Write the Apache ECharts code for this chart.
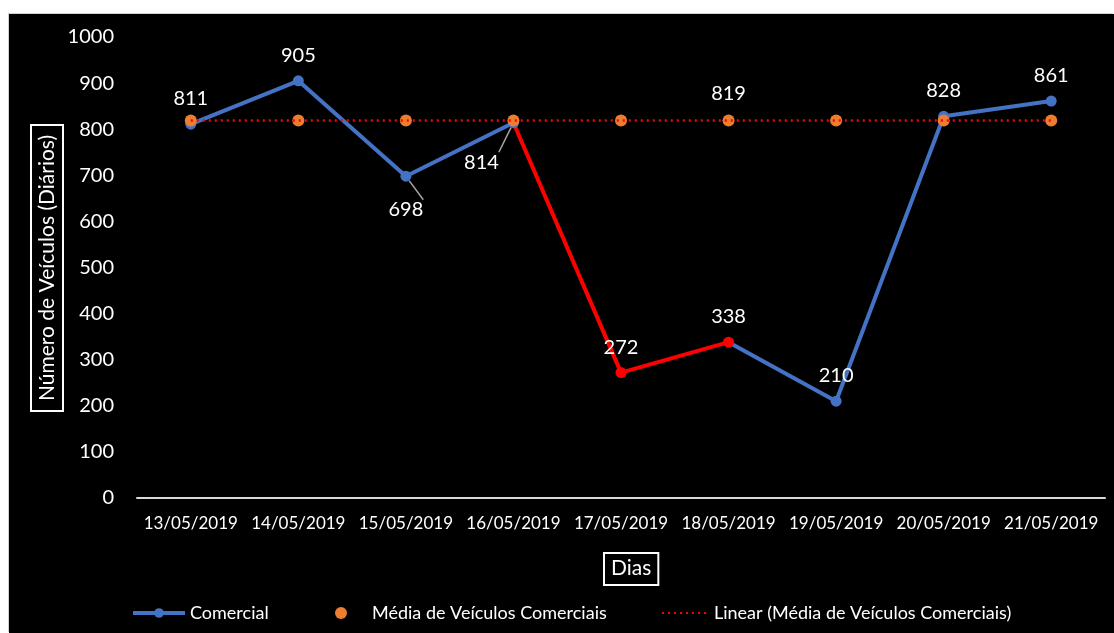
<!DOCTYPE html>
<html>
<head>
<meta charset="utf-8">
<script src="https://cdn.jsdelivr.net/npm/echarts@6/dist/echarts.min.js"></script>
<style>
  html, body { margin: 0; padding: 0; background: #fff; }
  #chart {
    position: absolute; left: 9px; top: 14px;
    width: 1105px; height: 619px;
    background: #000;
    box-shadow: -1px -1px 0 #d0d0d0;
  }
</style>
</head>
<body>
<div id="chart"></div>
<script>
// dados do gráfico
const dias = ["13/05/2019", "14/05/2019", "15/05/2019", "16/05/2019", "17/05/2019",
              "18/05/2019", "19/05/2019", "20/05/2019", "21/05/2019"];
const comercial = [811, 905, 698, 814, 272, 338, 210, 828, 861];
const mediaComercial = [819, 819, 819, 819, 819, 819, 819, 819, 819];
const yTicks = [0, 1000, 100]; // min, max, intervalo

const FONT = "Lato, 'Open Sans', sans-serif";
const BLUE = "#4472C4";
const ORANGE = "#ED7D31";

const chart = echarts.init(document.getElementById("chart"));

// rótulos: posição de cada valor (alguns abaixo, com linha guia)
const comercialData = comercial.map((v, i) => {
    const item = { value: v };
    if (i === 2) {
        item.label = { position: "bottom", distance: 18 };
    } else if (i === 3) {
        item.label = { position: "bottom", offset: [-32, 14] };
    }
    return item;
});

const mediaData = mediaComercial.map((v, i) => {
    // só o ponto do meio mostra o rótulo
    return i === 5 ? { value: v, label: { show: true } } : v;
});

const legendText = { color: "#fff", fontSize: 18, fontFamily: FONT };

const option = {
    textStyle: { fontFamily: FONT },
    animation: false,
    grid: { left: 128, right: 9, top: 23, bottom: 135 },
    graphic: [
        {
            // título do eixo x
            type: "text",
            left: 594, top: 538,
            style: {
                text: "Dias", fill: "#fff", font: "21px " + FONT,
                borderColor: "#fff", borderWidth: 2, padding: [5, 7, 6, 7]
            }
        },
        {
            // título do eixo y (rodado)
            type: "text",
            x: 38, y: 254,
            rotation: Math.PI / 2,
            style: {
                text: "Número de Veículos (Diários)", fill: "#fff",
                font: "21px " + FONT,
                align: "center", verticalAlign: "middle",
                borderColor: "#fff", borderWidth: 2, padding: [7, 10, 4, 10]
            }
        }
    ],
    xAxis: {
        type: "category",
        data: dias,
        boundaryGap: true,
        axisLine: { lineStyle: { color: "#d9d9d9", width: 2 } },
        axisTick: { show: false },
        axisLabel: { color: "#fff", fontSize: 17, margin: 17, interval: 0 }
    },
    yAxis: {
        type: "value",
        min: yTicks[0],
        max: yTicks[1],
        interval: yTicks[2],
        axisLine: { show: false },
        axisTick: { show: false },
        splitLine: { show: false },
        axisLabel: {
            color: "#fff", fontSize: 20, margin: 23,
            formatter: (v) => String(v)
        }
    },
    visualMap: {
        show: false,
        type: "piecewise",
        seriesIndex: 0,
        dimension: 0,
        pieces: [{ gt: 3, lte: 5, color: "#FF0000" }],
        outOfRange: { color: BLUE }
    },
    legend: [
        {
            data: ["Comercial"], left: 117, top: 585,
            itemWidth: 52, itemHeight: 12,
            lineStyle: { width: 4 },
            textStyle: legendText
        },
        {
            data: ["Média de Veículos Comerciais"], left: 321, top: 585,
            itemWidth: 52, itemHeight: 12,
            textStyle: legendText
        },
        {
            data: ["Linear (Média de Veículos Comerciais)"], left: 647, top: 585,
            itemWidth: 47, itemHeight: 12,
            itemStyle: { opacity: 0 },
            textStyle: legendText
        }
    ],
    series: [
        {
            name: "Comercial",
            type: "line",
            data: comercialData,
            symbol: "circle",
            symbolSize: 11,
            lineStyle: { width: 4 },
            itemStyle: { color: BLUE },
            label: {
                show: true, position: "top", distance: 10,
                color: "#fff", fontSize: 20
            },
            labelLine: { show: true, lineStyle: { color: "#a6a6a6", width: 1.5 } },
            z: 2
        },
        {
            name: "Média de Veículos Comerciais",
            type: "scatter",
            data: mediaData,
            symbolSize: 12,
            itemStyle: { color: ORANGE, opacity: 1 },
            label: {
                show: false, position: "top", distance: 11,
                color: "#fff", fontSize: 20
            },
            z: 3
        },
        {
            name: "Linear (Média de Veículos Comerciais)",
            type: "line",
            data: mediaComercial,
            symbol: "none",
            lineStyle: { color: "#FF0000", width: 2.5, type: [2, 4] },
            itemStyle: { color: "#FF0000" },
            z: 4
        }
    ]
};

chart.setOption(option);
</script>
</body>
</html>
